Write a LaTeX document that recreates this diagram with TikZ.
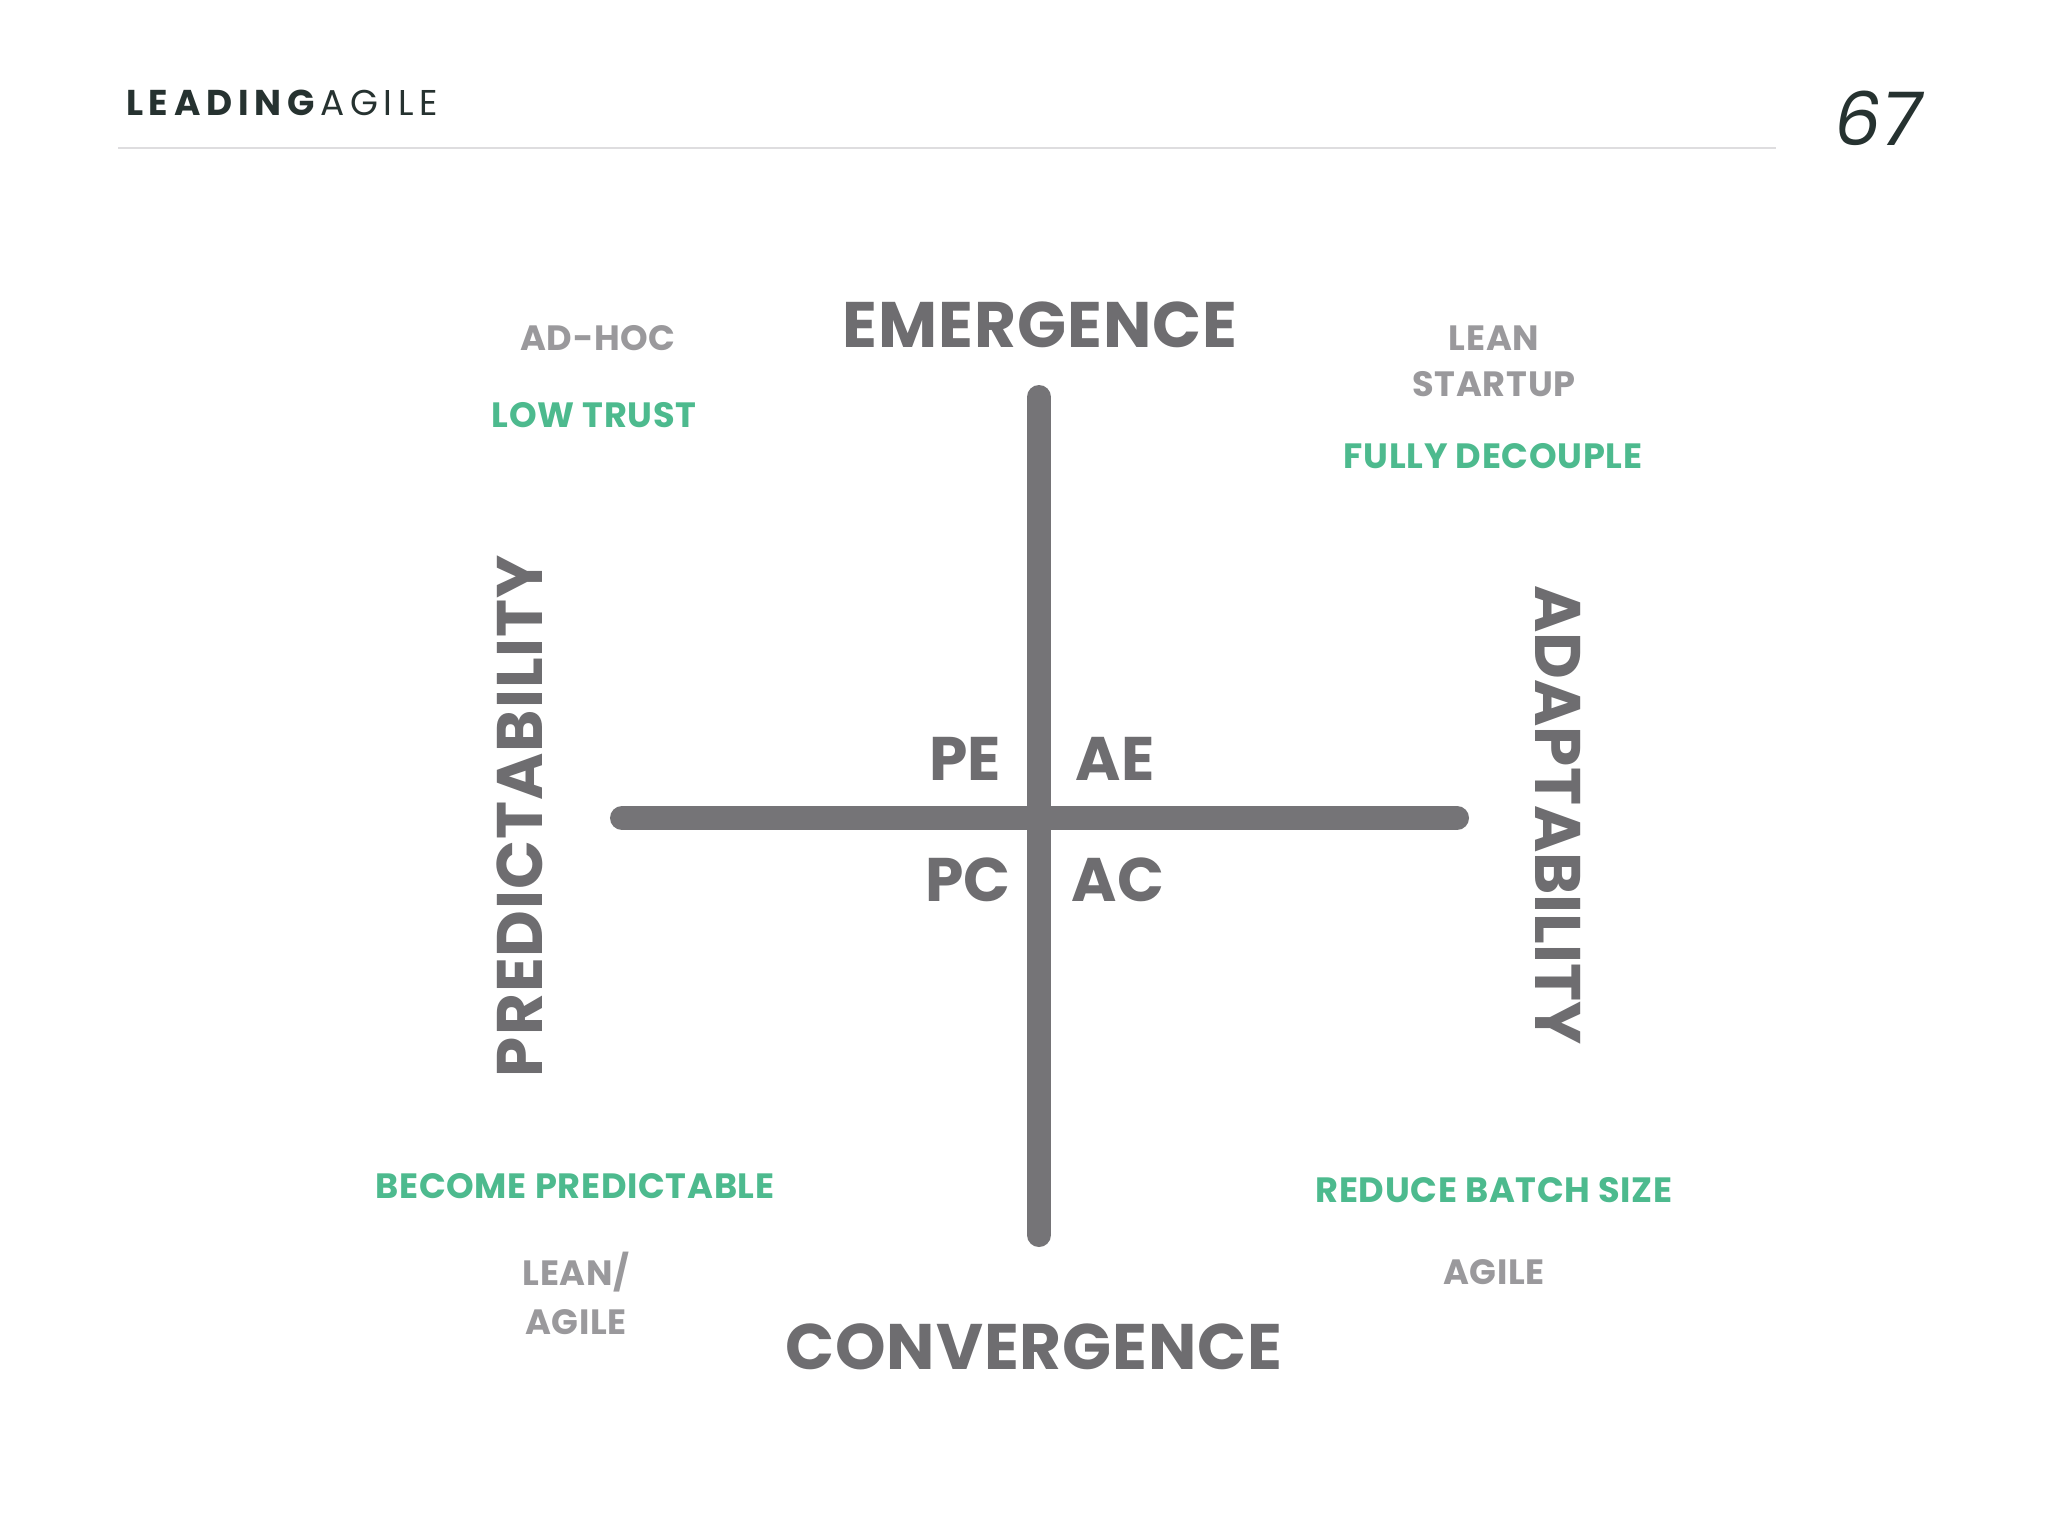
\documentclass[tikz,border=0pt]{standalone}
\usepackage{fontspec}
\setmainfont{Poppins}
\definecolor{axisgray}{HTML}{757477}
\definecolor{headgray}{HTML}{6E6D70}
\definecolor{labelgray}{HTML}{9A999C}
\definecolor{goalgreen}{HTML}{4DBA8E}
\definecolor{logodark}{HTML}{263230}
\definecolor{rulegray}{HTML}{DEDDDF}
\begin{document}
\begin{tikzpicture}[x=0.01cm,y=-0.01cm,
  big/.style={text=headgray,font=\fontsize{18.3}{20}\selectfont\bfseries\addfontfeatures{LetterSpace=1.5}},
  quad/.style={text=headgray,font=\fontsize{17.5}{19}\selectfont\bfseries},
  small/.style={text=labelgray,align=center,font=\fontsize{10}{13}\selectfont\bfseries\addfontfeatures{LetterSpace=2}},
  goal/.style={text=goalgreen,font=\fontsize{10}{12}\selectfont\bfseries\addfontfeatures{LetterSpace=2}}]
\useasboundingbox[fill=white](0,0) rectangle (2048,1536);
% header
\node[text=logodark,font=\fontsize{10.2}{12}\selectfont\addfontfeatures{LetterSpace=16}] (logo) at (282,103) {\textbf{LEADING}AGILE};
\node[text=logodark,font=\fontsize{21}{24}\selectfont\itshape] (page) at (1878,118) {67};
\draw[rulegray,line width=0.02cm](118,148)--(1776,148);
% axes
\draw[axisgray,line width=0.24cm,line cap=round](1039,397)--(1039,1235);
\draw[axisgray,line width=0.24cm,line cap=round](622,818)--(1457,818);
% axis names
\node[big] (emergence) at (1040,325) {EMERGENCE};
\node[big] (convergence) at (1034,1347) {CONVERGENCE};
\node[big,rotate=90] (predictability) at (520,816) {PREDICTABILITY};
\node[big,rotate=-90,font=\fontsize{18.3}{20}\selectfont\bfseries] (adaptability) at (1558,815) {ADAPTABILITY};
% quadrants
\node[quad] (pe) at (965,759) {PE};
\node[quad] (ae) at (1115,759) {AE};
\node[quad] (pc) at (968,880) {PC};
\node[quad] (ac) at (1118,880) {AC};
% corner labels
\node[small] (adhoc) at (598,338) {AD-HOC};
\node[goal] (lowtrust) at (594,415) {LOW TRUST};
\node[small] (leanstartup) at (1494,361) {LEAN\\STARTUP};
\node[goal] (decouple) at (1493,456) {FULLY DECOUPLE};
\node[goal] (predictable) at (575,1186) {BECOME PREDICTABLE};
\node[small,font=\fontsize{10}{13.9}\selectfont\bfseries\addfontfeatures{LetterSpace=2}] (leanagile) at (576,1293) {LEAN/\\AGILE};
\node[goal] (batchsize) at (1494,1190) {REDUCE BATCH SIZE};
\node[small] (agile) at (1494,1272) {AGILE};
\end{tikzpicture}
\end{document}
